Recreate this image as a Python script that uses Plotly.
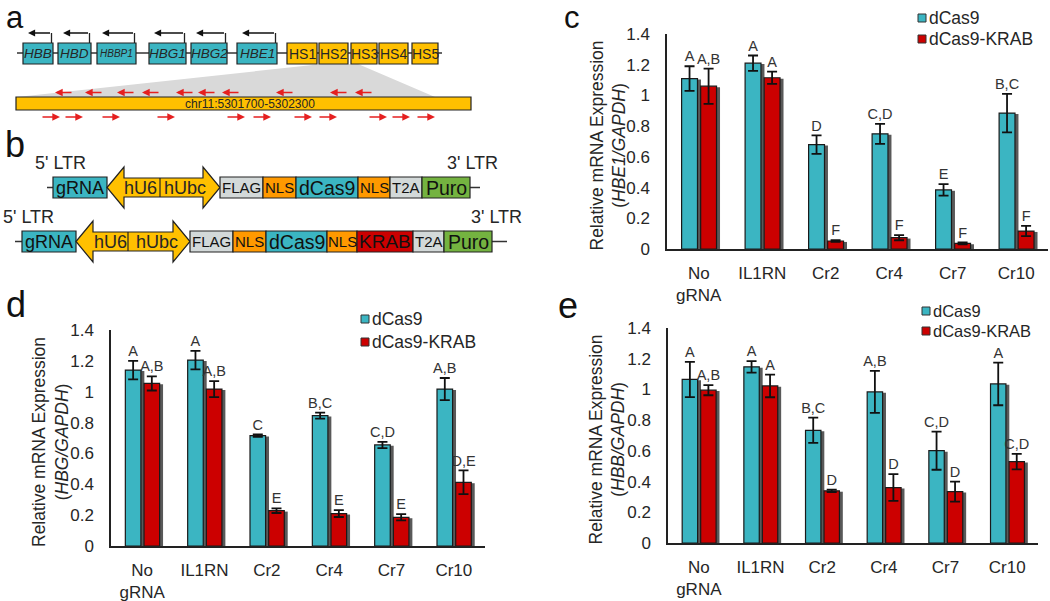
import plotly.graph_objects as go

W, H = 1050, 601


def px(x):
    return x / W


def py(y):
    return 1 - y / H


FONT = "Arial, Liberation Sans, sans-serif"
TXT = "#262626"
TEAL = "#3BB5C2"
RED = "#CC0000"
YELLOW = "#FFC000"
ORANGE = "#FF9900"
GRAY = "#D3D9D9"
GREEN = "#74B340"

# ---------------- data ----------------
categories = ["No<br>gRNA", "IL1RN", "Cr2", "Cr4", "Cr7", "Cr10"]
series_names = ["dCas9", "dCas9-KRAB"]

# panel c : HBE1/GAPDH
c_dcas9 = [1.11, 1.21, 0.68, 0.75, 0.385, 0.885]
c_dcas9_err = [0.08, 0.05, 0.06, 0.065, 0.037, 0.125]
c_krab = [1.06, 1.115, 0.052, 0.074, 0.037, 0.117]
c_krab_err = [0.115, 0.04, 0.005, 0.017, 0.006, 0.033]
c_dcas9_lbl = ["A", "A", "D", "C,D", "E", "B,C"]
c_krab_lbl = ["A,B", "A", "F", "F", "F", "F"]

# panel d : HBG/GAPDH
d_dcas9 = [1.14, 1.205, 0.715, 0.845, 0.655, 1.017]
d_dcas9_err = [0.06, 0.06, 0.008, 0.02, 0.02, 0.072]
d_krab = [1.054, 1.017, 0.229, 0.21, 0.186, 0.413]
d_krab_err = [0.046, 0.052, 0.015, 0.022, 0.02, 0.077]
d_dcas9_lbl = ["A", "A", "C", "B,C", "C,D", "A,B"]
d_krab_lbl = ["A,B", "A,B", "E", "E", "E", "D,E"]

# panel e : HBB/GAPDH
e_dcas9 = [1.065, 1.147, 0.734, 0.984, 0.601, 1.036]
e_dcas9_err = [0.115, 0.037, 0.082, 0.137, 0.124, 0.139]
e_krab = [0.995, 1.023, 0.34, 0.361, 0.335, 0.53]
e_krab_err = [0.033, 0.074, 0.008, 0.087, 0.065, 0.05]
e_dcas9_lbl = ["A", "A", "B,C", "A,B", "C,D", "A"]
e_krab_lbl = ["A,B", "A", "D", "D", "D", "C,D"]

y_tickvals = [0, 0.2, 0.4, 0.6, 0.8, 1.0, 1.2, 1.4]
y_ticktext = ["0", "0.2", "0.4", "0.6", "0.8", "1", "1.2", "1.4"]

# panel a : beta-globin locus
genes = ["HBB", "HBD", "HBBP1", "HBG1", "HBG2", "HBE1"]
hs_sites = ["HS1", "HS2", "HS3", "HS4", "HS5"]
region_label = "chr11:5301700-5302300"

# panel b : constructs
construct1 = ["gRNA", "hU6|hUbc", "FLAG", "NLS", "dCas9", "NLS", "T2A", "Puro"]
construct2 = ["gRNA", "hU6|hUbc", "FLAG", "NLS", "dCas9", "NLS", "KRAB", "T2A", "Puro"]

# ---------------- layout geometry (pixels) ----------------
gene_px = [(23, 53), (58, 91), (97, 136), (149, 186), (191, 227), (237, 277)]
hs_px = [(287, 317), (319, 348), (351, 377), (379, 408), (412, 438)]
grna_rev_tips = [55, 85, 117, 142, 176, 198, 222, 276, 330, 355]
grna_fwd_tips = [60, 83, 120, 175, 245, 271, 312, 337, 387, 410, 435]

fig = go.Figure()
shapes = []
annots = []


def rect(x0, y0, x1, y1, fill, lw=1, lc="#222"):
    shapes.append(dict(type="rect", xref="paper", yref="paper",
                       x0=px(x0), x1=px(x1), y0=py(y1), y1=py(y0),
                       fillcolor=fill, line=dict(color=lc, width=lw)))


def hline(x0, x1, y, lw=1.5, c="#333"):
    shapes.append(dict(type="line", xref="paper", yref="paper",
                       x0=px(x0), x1=px(x1), y0=py(y), y1=py(y),
                       line=dict(color=c, width=lw)))


def vline(x, y0, y1, lw=1.5, c="#222"):
    shapes.append(dict(type="line", xref="paper", yref="paper",
                       x0=px(x), x1=px(x), y0=py(y0), y1=py(y1),
                       line=dict(color=c, width=lw)))


def poly(pts, fill, lc="#222", lw=1):
    p = "M " + " L ".join(f"{px(x):.5f},{py(y):.5f}" for x, y in pts) + " Z"
    shapes.append(dict(type="path", xref="paper", yref="paper", path=p,
                       fillcolor=fill, line=dict(color=lc, width=lw)))


def text(x, y, s, size, color=TXT, xanchor="center", angle=0, italic=False):
    annots.append(dict(xref="paper", yref="paper", x=px(x), y=py(y), text=s,
                       showarrow=False, xanchor=xanchor, yanchor="middle",
                       textangle=angle,
                       font=dict(family=FONT, size=size, color=color,
                                 style="italic" if italic else "normal")))


def arrow(tipx, tipy, tailx, taily, color, width=1.5, head=2, size=1.0):
    annots.append(dict(xref="paper", yref="paper", x=px(tipx), y=py(tipy),
                       ax=tailx - tipx, ay=taily - tipy, axref="pixel", ayref="pixel",
                       text="", showarrow=True, arrowhead=head, arrowsize=size,
                       arrowwidth=width, arrowcolor=color))


# ---------------- panel a ----------------
poly([(322, 64), (358, 64), (435, 97), (17, 97)], "#D9D9D9", lc="rgba(0,0,0,0)", lw=0)
hline(17, 442, 53)
for name, (x0, x1) in zip(genes, gene_px):
    rect(x0, 43, x1, 64, TEAL, lw=1.2)
    text((x0 + x1) / 2, 53.5, name, 10 if name == "HBBP1" else 13.5, italic=True)
    vline(x1 - 1.5, 43, 33, lw=1.3)
    arrow(x0 + 5, 33, x1 - 1.5, 33, "#111", width=1.3, head=2, size=1.1)
for name, (x0, x1) in zip(hs_sites, hs_px):
    rect(x0, 43, x1, 64, YELLOW, lw=1.2)
    text((x0 + x1) / 2, 53.5, name, 14)
rect(16, 97, 471, 110, YELLOW, lw=1.2)
text(250, 104, region_label, 12)
for t in grna_rev_tips:
    arrow(t, 92.5, t + 18, 92.5, "#E52020", width=1.4, head=2, size=1.1)
for t in grna_fwd_tips:
    arrow(t, 117, t - 19, 117, "#E52020", width=1.4, head=2, size=1.1)


# ---------------- panel b ----------------
def double_arrow(L, R, div, cy, lab1, lab2, l1x, l2x):
    sh, hh, hl = 9.5, 20.5, 17
    poly([(L, cy), (L + hl, cy - hh), (L + hl, cy - sh), (R - hl, cy - sh),
          (R - hl, cy - hh), (R, cy), (R - hl, cy + hh), (R - hl, cy + sh),
          (L + hl, cy + sh), (L + hl, cy + hh)], YELLOW, lw=1.2)
    vline(div, cy - sh, cy + sh, lw=1.2)
    text(l1x, cy + 0.5, lab1, 18)
    text(l2x, cy + 0.5, lab2, 18)


color_of = {"gRNA": TEAL, "FLAG": GRAY, "NLS": ORANGE, "dCas9": TEAL,
            "T2A": GRAY, "Puro": GREEN, "KRAB": RED}
size_of = {"gRNA": 18, "FLAG": 15, "NLS": 15, "dCas9": 19.5, "T2A": 15,
           "Puro": 19.5, "KRAB": 19}


def construct(elems, bounds, y0, y1, arrow_spec, line_x):
    cy = (y0 + y1) / 2
    hline(line_x[0], line_x[1], cy, lw=1.5)
    for name, (x0, x1) in zip(elems, bounds):
        if "|" in name:
            a, b = name.split("|")
            double_arrow(x0, x1, arrow_spec[0], cy, a, b, arrow_spec[1], arrow_spec[2])
        else:
            rect(x0, y0, x1, y1, color_of[name], lw=1.2)
            text((x0 + x1) / 2, cy + 0.5, name, size_of[name], color="#111")


construct(construct1,
          [(53, 107), (107, 220), (220, 263), (263, 296), (296, 358), (358, 390),
           (390, 422), (422, 470)],
          177, 198, (160, 140, 185), (47, 480))
construct(construct2,
          [(22, 76), (76, 190), (190, 233), (233, 266), (266, 327), (327, 357),
           (357, 413), (413, 444), (444, 492)],
          231, 252, (128, 110, 157), (15, 507))
text(60, 163, "5' LTR", 18)
text(472, 163, "3' LTR", 18)
text(28, 217, "5' LTR", 18)
text(496, 217, "3' LTR", 18)

# panel letters
for lab, x, y, s in [("a", 15, 18, 31), ("b", 15, 144, 36), ("c", 572, 18, 31),
                     ("d", 16, 304, 36), ("e", 568, 305, 36)]:
    text(x, y, lab, s, color="#111")

# ---------------- bar panels ----------------
panels = [
    dict(ax="", dv=c_dcas9, de=c_dcas9_err, kv=c_krab, ke=c_krab_err,
         dl=c_dcas9_lbl, kl=c_krab_lbl, xd=(667, 1048), yd=(34, 249),
         gene="HBE1", title_x=608, leg=(922, 18, 39), lfs=17.5),
    dict(ax="2", dv=d_dcas9, de=d_dcas9_err, kv=d_krab, ke=d_krab_err,
         dl=d_dcas9_lbl, kl=d_krab_lbl, xd=(111, 485), yd=(330, 546),
         gene="HBG", title_x=50, leg=(365, 319, 342), lfs=17.5),
    dict(ax="3", dv=e_dcas9, de=e_dcas9_err, kv=e_krab, ke=e_krab_err,
         dl=e_dcas9_lbl, kl=e_krab_lbl, xd=(668, 1038), yd=(328, 543),
         gene="HBB", title_x=607, leg=(926, 311, 331), lfs=16.5),
]

xs = list(range(len(categories)))
OFF_D, OFF_K, BW, SH = -0.27, 0.03, 0.25, 0.055

for p in panels:
    xa, ya = "x" + p["ax"], "y" + p["ax"]
    # shadows
    for vals, off in [(p["dv"], OFF_D), (p["kv"], OFF_K)]:
        fig.add_trace(go.Bar(x=xs, y=[v - 0.006 for v in vals], offset=off + SH, width=BW,
                             marker=dict(color="rgba(60,60,60,0.85)", line=dict(width=0)),
                             showlegend=False, hoverinfo="skip", xaxis=xa, yaxis=ya))
    for name, vals, errs, off, col in [(series_names[0], p["dv"], p["de"], OFF_D, TEAL),
                                       (series_names[1], p["kv"], p["ke"], OFF_K, RED)]:
        fig.add_trace(go.Bar(x=xs, y=vals, offset=off, width=BW, name=name,
                             marker=dict(color=col, line=dict(color="#1a1a1a", width=1.2)),
                             error_y=dict(type="data", array=errs, color="#111",
                                          thickness=1.8, width=5),
                             showlegend=False, xaxis=xa, yaxis=ya))
    for vals, errs, lbls, off in [(p["dv"], p["de"], p["dl"], OFF_D),
                                  (p["kv"], p["ke"], p["kl"], OFF_K)]:
        fig.add_trace(go.Scatter(x=[i + off + BW / 2 for i in xs],
                                 y=[v + e + 0.008 for v, e in zip(vals, errs)],
                                 mode="text", text=lbls, textposition="top center",
                                 textfont=dict(family=FONT, size=14.5, color="#333"),
                                 cliponaxis=False, showlegend=False, hoverinfo="skip",
                                 xaxis=xa, yaxis=ya))
    x0, x1 = p["xd"]
    y0, y1 = p["yd"]
    fig.update_layout(**{
        "xaxis" + p["ax"]: dict(domain=[px(x0), px(x1)], range=[-0.5, 5.5],
                                tickvals=xs, ticktext=categories, showline=True,
                                linecolor="#222", linewidth=1.5, ticks="outside",
                                ticklen=8, tickcolor="rgba(0,0,0,0)", showgrid=False,
                                zeroline=False, anchor=ya, automargin=False,
                                tickfont=dict(family=FONT, size=17, color=TXT),
                                fixedrange=True),
        "yaxis" + p["ax"]: dict(domain=[py(y1), py(y0)], range=[0, 1.4],
                                tickvals=y_tickvals, ticktext=y_ticktext, showline=True,
                                linecolor="#222", linewidth=1.5, ticks="outside",
                                ticklen=12, tickcolor="rgba(0,0,0,0)", showgrid=False,
                                zeroline=False, anchor=xa, automargin=False,
                                tickfont=dict(family=FONT, size=17, color=TXT),
                                fixedrange=True),
    })
    text(p["title_x"], (y0 + y1) / 2 + 4,
         f"Relative mRNA Expression<br>(<i>{p['gene']}/GAPDH</i>)", 17.5, angle=-90)
    lx, ly1, ly2 = p["leg"]
    for ly, col, nm in [(ly1, TEAL, series_names[0]), (ly2, RED, series_names[1])]:
        rect(lx - 4, ly - 4, lx + 4, ly + 4, col, lw=1, lc="#333")
        text(lx + 5, ly, nm, p["lfs"], xanchor="left")

fig.update_layout(
    template="none",
    width=W, height=H, margin=dict(l=0, r=0, t=0, b=0, pad=0, autoexpand=False),
    paper_bgcolor="white", plot_bgcolor="white", barmode="overlay",
    shapes=shapes, annotations=annots, showlegend=False,
    font=dict(family=FONT, color=TXT),
)

fig.write_html("out.html", config={"displayModeBar": False},
               post_script="document.body.style.margin='0';document.body.style.overflow='hidden';")
